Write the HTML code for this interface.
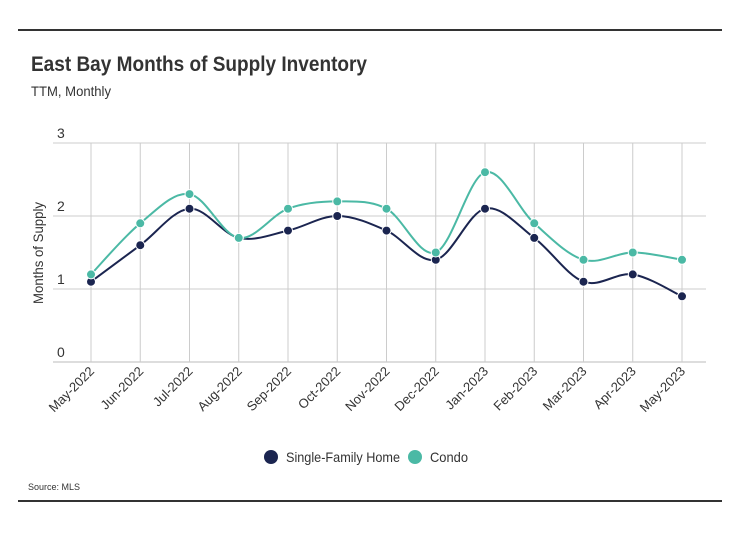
<!DOCTYPE html>
<html><head><meta charset="utf-8"><style>
body{margin:0;background:#fff;font-family:"Liberation Sans",sans-serif}
svg{display:block}
</style></head><body>
<svg width="740" height="533">
<line x1="18" y1="30" x2="722" y2="30" stroke="#333" stroke-width="2"/>
<line x1="18" y1="501" x2="722" y2="501" stroke="#333" stroke-width="2"/>
<text x="31" y="71" font-size="21" font-weight="bold" fill="#333" textLength="336" lengthAdjust="spacingAndGlyphs">East Bay Months of Supply Inventory</text>
<text x="31" y="96" font-size="14" fill="#333" textLength="80" lengthAdjust="spacingAndGlyphs">TTM, Monthly</text>
<text transform="translate(43,253) rotate(-90)" text-anchor="middle" font-size="14" fill="#333" textLength="102" lengthAdjust="spacingAndGlyphs">Months of Supply</text>
<g id="grid"></g><g id="lines"></g><g id="pts"></g><g id="xl"></g>
<g>
<circle cx="271" cy="457" r="7" fill="#1b2550"/>
<text x="286" y="462" font-size="14" fill="#333" textLength="114" lengthAdjust="spacingAndGlyphs">Single-Family Home</text>
<circle cx="415" cy="457" r="7" fill="#4bb9a5"/>
<text x="430" y="462" font-size="14" fill="#333" textLength="38" lengthAdjust="spacingAndGlyphs">Condo</text>
</g>
<text x="28" y="490" font-size="9" fill="#333">Source:  MLS</text>
</svg>
<script>
const categories=["May-2022","Jun-2022","Jul-2022","Aug-2022","Sep-2022","Oct-2022","Nov-2022","Dec-2022","Jan-2023","Feb-2023","Mar-2023","Apr-2023","May-2023"];
const sfhValues=[1.1,1.6,2.1,1.7,1.8,2.0,1.8,1.4,2.1,1.7,1.1,1.2,0.9];
const condoValues=[1.2,1.9,2.3,1.7,2.1,2.2,2.1,1.5,2.6,1.9,1.4,1.5,1.4];
const yTicks=[0,1,2,3];
const NS="http://www.w3.org/2000/svg";
const x=i=>91+i*(682-91)/(categories.length-1);
const y=v=>362-v*73;
function mk(t,a,p){const e=document.createElementNS(NS,t);for(const k in a)e.setAttribute(k,a[k]);p.appendChild(e);return e;}
const g=document.getElementById('grid');
yTicks.forEach(t=>{
 const l=mk('line',{x1:53,x2:706,y1:y(t),y2:y(t),stroke:t==0?'#bbb':'#ccc'},g);
 
 
 const tx=mk('text',{x:57,y:y(t)-5,'font-size':14,fill:'#333'},g);tx.textContent=t;
 
 
});
const xl=document.getElementById('xl');
categories.forEach((c,i)=>{
 const l=mk('line',{x1:x(i),x2:x(i),y1:y(3),y2:y(0),stroke:'#ccc'},g);
 
 
 const tx=mk('text',{transform:`translate(${x(i)+4},${y(0)+10}) rotate(-45)`,'text-anchor':'end','font-size':13,fill:'#333'},xl);tx.textContent=c;
 
 
});
function curve(vals){
 const P=vals.map((v,i)=>[x(i),y(v)]);let d=`M${P[0][0]},${P[0][1]}`;
 for(let i=0;i<P.length-1;i++){const p0=P[i-1]||P[i],p1=P[i],p2=P[i+1],p3=P[i+2]||p2;
  d+=`C${p1[0]+(p2[0]-p0[0])/6},${p1[1]+(p2[1]-p0[1])/6} ${p2[0]-(p3[0]-p1[0])/6},${p2[1]-(p3[1]-p1[1])/6} ${p2[0]},${p2[1]}`;}
 return d;}
const L=document.getElementById('lines'),Pg=document.getElementById('pts');
[[sfhValues,'#1b2550','sfh'],[condoValues,'#4bb9a5','condo']].forEach(([vals,col,n])=>{
 const p=mk('path',{d:curve(vals),fill:'none',stroke:col,'stroke-width':2},L);
 
 
 vals.forEach((v,i)=>{const c=mk('circle',{cx:x(i),cy:y(v),r:4.5,fill:col,stroke:'#fff','stroke-width':1},Pg);
  
  });
});
</script>
</body></html>
